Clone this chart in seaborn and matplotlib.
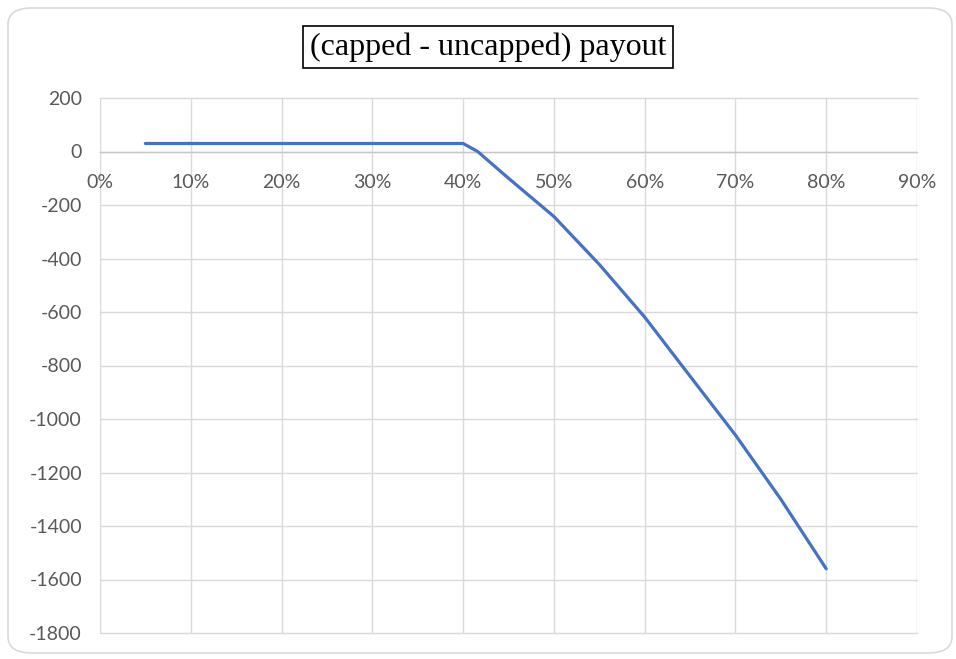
import matplotlib
matplotlib.use("Agg")
import matplotlib.pyplot as plt
import seaborn as sns
import pandas as pd
from matplotlib.patches import FancyBboxPatch
from matplotlib.ticker import PercentFormatter, MultipleLocator

# data
rate = [0.05, 0.10, 0.15, 0.20, 0.25, 0.30, 0.35, 0.40, 0.416, 0.45, 0.50,
        0.55, 0.60, 0.65, 0.70, 0.75, 0.80]
payout_diff = [30, 30, 30, 30, 30, 30, 30, 30, 0, -100, -243,
               -422, -619, -840, -1060, -1300, -1560]
title = "(capped - uncapped) payout"
y_ticks = [200, 0, -200, -400, -600, -800, -1000, -1200, -1400, -1600, -1800]

df = pd.DataFrame({"rate": rate, "diff": payout_diff})

sns.set_style("white")
plt.rcParams["font.family"] = ["Lato", "DejaVu Sans"]
plt.rcParams["axes.unicode_minus"] = False

W, H = 956, 659
fig = plt.figure(figsize=(W / 100, H / 100), dpi=100)

# chart area border (rounded)
border = FancyBboxPatch((8 / W, 6 / H), (944) / W, (645) / H,
                        boxstyle="round,pad=0,rounding_size=0.025",
                        transform=fig.transFigure, fc="none", ec="#d9d9d9",
                        lw=1.2, zorder=-1)
fig.patches.append(border)

left, right, top, bottom = 100, 917, 98, 633
ax = fig.add_axes([left / W, 1 - bottom / H, (right - left) / W, (bottom - top) / H])
ax.set_facecolor("none")

sns.lineplot(data=df, x="rate", y="diff", ax=ax, color="#4472C4",
             linewidth=2.3, zorder=3)

ax.set_xlim(0, 0.9)
ax.set_ylim(-1800, 200)
ax.xaxis.set_major_locator(MultipleLocator(0.1))
ax.xaxis.set_major_formatter(PercentFormatter(1.0, decimals=0))
ax.set_yticks(y_ticks)
ax.set_xlabel("")
ax.set_ylabel("")

ax.grid(True, color="#d9d9d9", linewidth=1.0)
for g in ax.get_xgridlines() + ax.get_ygridlines():
    g.set_clip_on(False)
for s in ["top", "right", "left"]:
    ax.spines[s].set_visible(False)
ax.spines["bottom"].set_position(("data", 0))
ax.spines["bottom"].set_color("#c8c8c8")
ax.spines["bottom"].set_linewidth(1.0)

ax.tick_params(axis="both", length=0, labelsize=14, colors="#595959")
ax.tick_params(axis="y", pad=13)
ax.tick_params(axis="x", pad=16)

fig.text(488 / W, 1 - 47 / H, title, ha="center", va="center",
         family=["Liberation Serif"], fontsize=23, color="black",
         bbox=dict(boxstyle="square,pad=0.2", fc="white", ec="black", lw=1.2))

fig.savefig("out.png", dpi=100)
